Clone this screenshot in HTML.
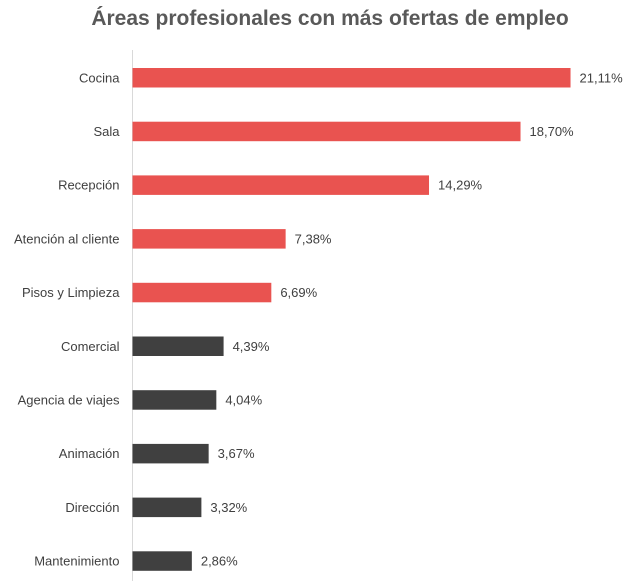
<!DOCTYPE html>
<html><head><meta charset="utf-8"><style>
body{margin:0;background:#fff;width:638px;height:581px;overflow:hidden;font-family:"Liberation Sans",sans-serif}
</style></head><body>
<svg width="638" height="581">
<text x="330" y="25" text-anchor="middle" font-size="21" font-weight="bold" fill="#595959">Áreas profesionales con más ofertas de empleo</text>
<line x1="132.5" y1="50" x2="132.5" y2="581" stroke="#d9d9d9" stroke-width="1"/>
<g id="bars"></g>
</svg>
<script>
const categories=["Cocina","Sala","Recepción","Atención al cliente","Pisos y Limpieza","Comercial","Agencia de viajes","Animación","Dirección","Mantenimiento"];
const values=[21.11,18.70,14.29,7.38,6.69,4.39,4.04,3.67,3.32,2.86];
const highlighted=[true,true,true,true,true,false,false,false,false,false];
const x0=132.5,pxPer=20.75,y0=68,step=53.7,bh=19.5;
const xs=v=>x0+v*pxPer;
const g=document.getElementById('bars');
const NS="http://www.w3.org/2000/svg";
categories.forEach((c,i)=>{
const y=y0+i*step;
const r=document.createElementNS(NS,'rect');
r.setAttribute('x',x0);r.setAttribute('y',y);r.setAttribute('width',xs(values[i])-x0);r.setAttribute('height',bh);
r.setAttribute('fill',highlighted[i]?'#e95350':'#404040');


g.appendChild(r);
const t=document.createElementNS(NS,'text');
t.setAttribute('x',x0-13);t.setAttribute('y',y+bh/2+4.5);t.setAttribute('text-anchor','end');
t.setAttribute('font-size','13');t.setAttribute('fill','#404040');t.textContent=c;


g.appendChild(t);
const v=document.createElementNS(NS,'text');
v.setAttribute('x',xs(values[i])+9);v.setAttribute('y',y+bh/2+4.5);
v.setAttribute('font-size','13');v.setAttribute('fill','#404040');
v.textContent=values[i].toFixed(2).replace('.',',')+'%';


g.appendChild(v);
});
</script>
</body></html>
